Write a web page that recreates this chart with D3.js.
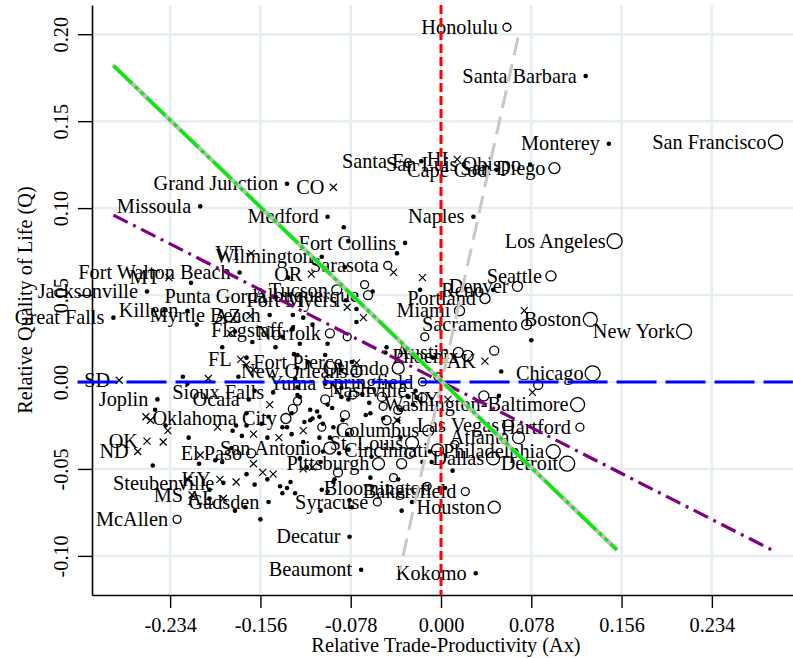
<!DOCTYPE html>
<html>
<head>
<meta charset="utf-8">
<script src="https://cdn.jsdelivr.net/npm/d3@7"></script>
<style>
  body { margin: 0; background: #fff; }
  svg { display: block; }
  text { font-family: "Liberation Serif", "Times New Roman", serif; }
</style>
</head>
<body>
<div id="chart"></div>
<script>
// ---- data (Ax = relative trade-productivity, Q = relative quality of life) ----
const xTicks = [-0.234, -0.156, -0.078, 0, 0.078, 0.156, 0.234];
const yTicks = [-0.10, -0.05, 0, 0.05, 0.10, 0.15, 0.20];

// labelled areas: mark "d" = small metro, "x" = non-metro state area, "c" = large metro (w = relative size)
const labelNames = ["Honolulu","Santa Barbara","Monterey","San Francisco","San Diego","San Luis Obispo","Santa Fe","HI","Cape Cod","Naples",
  "Los Angeles","Seattle","Denver","Reno","Portland","Miami","Sacramento","Boston","New York","Chicago",
  "Washington-Baltimore","Hartford","Philadelphia","Detroit","Houston","Kokomo","Dallas","Las Vegas","Atlanta","Bakersfield",
  "Bloomington","Syracuse","Pittsburgh","San Antonio","El Paso","Oklahoma City","Columbus","St. Louis","Cincinnati","Springfield",
  "Nashville","Orlando","Yuma","New Orleans","Fort Pierce","Sioux Falls","Ocala","Joplin","OK","ND",
  "SD","Steubenville","KY","MS","AL","Gadsden","McAllen","Decatur","Beaumont","Grand Junction",
  "CO","Missoula","Medford","Fort Collins","VT","Wilmington","Sarasota","OR","Fort Walton Beach","MT",
  "Jacksonville","Punta Gorda","Tucson","Albuquerque","Fort Myers","Great Falls","Killeen","Myrtle Beach","AZ","Flagstaff",
  "Norfolk","FL","Austin","Phoenix","AK","NY"];
const labelAx = [0.057,0.125,0.145,0.289,0.098,0.077,-0.017,0.014,0.048,0.028,
  0.150,0.095,0.066,0.045,0.038,0.016,0.074,0.129,0.210,0.131,
  0.118,0.120,0.097,0.109,0.046,0.030,0.045,0.058,0.067,0.021,
  -0.001,-0.055,-0.054,-0.096,-0.164,-0.134,-0.011,-0.025,-0.003,-0.016,
  -0.022,-0.037,-0.100,-0.073,-0.077,-0.145,-0.166,-0.245,-0.254,-0.262,
  -0.278,-0.188,-0.191,-0.215,-0.188,-0.149,-0.228,-0.079,-0.069,-0.133,
  -0.093,-0.208,-0.098,-0.031,-0.164,-0.103,-0.046,-0.112,-0.174,-0.235,
  -0.254,-0.143,-0.090,-0.063,-0.082,-0.283,-0.219,-0.148,-0.165,-0.129,
  -0.096,-0.173,0.015,0.023,0.038,0.006];
const labelQ = [0.204,0.176,0.137,0.138,0.123,0.125,0.127,0.128,0.122,0.095,
  0.081,0.061,0.055,0.053,0.048,0.041,0.033,0.036,0.029,0.005,
  -0.013,-0.026,-0.040,-0.047,-0.072,-0.110,-0.044,-0.025,-0.032,-0.063,
  -0.061,-0.069,-0.047,-0.038,-0.041,-0.021,-0.028,-0.035,-0.039,0.000,
  -0.005,0.008,-0.001,0.006,0.0115,-0.006,-0.010,-0.010,-0.034,-0.040,
  0.001,-0.058,-0.056,-0.065,-0.067,-0.069,-0.079,-0.089,-0.108,0.114,
  0.112,0.101,0.095,0.080,0.074,0.072,0.067,0.062,0.063,0.060,
  0.052,0.049,0.053,0.050,0.047,0.037,0.041,0.0385,0.038,0.030,
  0.028,0.013,0.017,0.015,0.012,-0.010];
const labelMark = ["c","d","d","c","c","d","d","x","d","d",
  "c","c","c","d","c","c","c","c","c","c",
  "c","c","c","c","c","d","c","c","c","c",
  "d","c","c","c","c","c","c","c","c","c",
  "d","c","d","c","d","d","d","d","x","x",
  "x","d","x","x","x","d","c","d","d","d",
  "x","d","d","d","x","d","c","x","d","x",
  "d","d","c","c","d","d","d","d","x","d",
  "c","x","c","c","x","x"];
const labelW = [0.22,0,0,0.68,0.42,0,0,0,0,0,
  0.78,0.35,0.35,0,0.35,0.35,0.35,0.68,0.78,0.78,
  0.68,0.22,0.68,0.78,0.5,0,0.58,0.42,0.5,0.22,
  0,0.22,0.5,0.5,0.28,0.35,0.42,0.58,0.5,0.22,
  0,0.5,0,0.42,0,0,0,0,0,0,
  0,0,0,0,0,0,0.22,0,0,0,
  0,0,0,0,0,0,0.22,0,0,0,
  0,0,0.35,0.28,0,0,0,0,0,0,
  0.28,0,0.35,0.42,0,0];

// unlabelled small metros
const dotAx = [-0.084,-0.080,-0.038,-0.132,-0.083,-0.216,-0.128,-0.119,-0.111,-0.073,-0.073,-0.211,-0.189,-0.163,-0.143,-0.137,-0.178,
  -0.223,-0.219,-0.175,-0.168,-0.161,-0.127,-0.115,-0.122,-0.133,-0.247,-0.238,-0.218,-0.177,-0.168,-0.172,-0.180,-0.150,-0.129,
  -0.118,-0.113,-0.249,-0.209,-0.195,-0.181,-0.150,-0.168,-0.161,-0.139,-0.137,-0.126,-0.130,-0.122,-0.116,-0.104,-0.093,-0.103,
  -0.098,-0.104,-0.169,-0.178,-0.156,-0.200,-0.102,-0.088,-0.102,-0.094,-0.107,-0.111,-0.086,-0.080,-0.085,-0.081,-0.061,-0.060,
  -0.065,-0.062,-0.037,-0.124,-0.098,-0.068,-0.061,-0.050,-0.035,-0.028,-0.024,-0.119,-0.093,-0.096,-0.105,-0.080,-0.037,-0.092,
  -0.079,-0.034,-0.077,-0.016,-0.0095,-0.128,-0.098,-0.047,-0.048,-0.124,-0.018,-0.100,-0.087,-0.086,-0.124,-0.126,-0.124,-0.122,
  -0.086,-0.129,-0.113,-0.105,-0.137,-0.033,-0.007,0.050,0.010,0.0035,-0.008,0.078,0.052,-0.029,-0.021,-0.035,-0.025,-0.059,
  -0.149,-0.168,-0.155,-0.189,-0.133,-0.200];
const dotQ = [0.089,0.081,0.074,0.060,0.066,0.057,0.0385,0.037,0.033,0.042,0.0345,0.033,0.020,0.023,0.020,0.026,0.029,
  0.003,-0.001,0.003,0.014,-0.005,0.016,0.0115,0.022,-0.026,-0.016,-0.025,-0.032,-0.025,-0.025,-0.031,-0.028,-0.032,-0.030,
  -0.023,-0.022,-0.048,-0.047,-0.045,-0.038,-0.056,-0.053,-0.059,-0.060,-0.064,-0.064,-0.0575,-0.044,-0.049,-0.046,-0.0575,-0.062,
  -0.063,-0.074,-0.072,-0.074,-0.079,-0.062,-0.040,-0.041,-0.024,-0.015,-0.017,-0.021,-0.0086,-0.010,-0.022,-0.030,-0.055,-0.043,
  -0.019,-0.012,-0.022,-0.0075,-0.013,-0.007,-0.018,-0.021,-0.016,-0.0086,-0.013,-0.0345,-0.026,-0.032,-0.032,-0.039,-0.056,-0.056,
  -0.068,-0.074,-0.072,-0.046,-0.040,0.031,0.022,0.020,0.017,0.0155,0.053,0.0155,0.010,0.007,0.008,0.002,-0.003,-0.0086,
  -0.0035,-0.018,-0.016,-0.020,-0.026,-0.0006,0.014,-0.008,-0.051,-0.061,-0.046,0.024,0.006,-0.008,-0.009,-0.032,-0.069,0.052,
  -0.020,-0.018,-0.024,-0.046,-0.061,-0.067];

// unlabelled non-metro state areas
const crossAx = [-0.041,-0.016,-0.081,-0.067,-0.182,-0.201,-0.168,-0.162,-0.148,-0.255,-0.251,-0.236,-0.240,-0.193,-0.162,-0.140,
  -0.119,-0.208,-0.162,-0.154,-0.145,-0.119,-0.111,-0.219,-0.177,-0.073,-0.038,0.072,0.079];
const crossQ = [0.063,0.060,0.043,0.037,0.028,0.002,0.010,0.007,-0.013,-0.020,-0.022,-0.028,-0.0345,-0.026,-0.030,-0.032,
  -0.028,-0.042,-0.047,-0.052,-0.053,-0.050,-0.049,-0.056,-0.0575,0.011,-0.022,0.041,-0.006];

// unlabelled large metros
const circleAx = [-0.066,-0.081,-0.014,-0.0026,0.046,0.084,0.037,-0.027,-0.034,-0.041,-0.012,-0.124,-0.128,-0.100,-0.076,-0.083,
  -0.079,-0.103,-0.089,-0.051,-0.050,-0.047,-0.037,-0.016,0.012];
const circleQ = [0.056,0.026,0.026,0.003,0.018,-0.0017,-0.008,-0.041,-0.047,-0.055,-0.060,-0.011,-0.0155,-0.010,-0.0075,-0.019,
  -0.029,-0.026,-0.052,-0.0086,-0.014,-0.022,-0.016,-0.009,-0.036];
const circleW = [0.22,0.22,0.22,0.22,0.28,0.28,0.35,0.35,0.35,0.22,0.22,0.22,0.28,0.28,0.22,0.28,
  0.22,0.22,0.28,0.28,0.22,0.28,0.28,0.28,0.22];

// fitted / reference lines (end points in data units)
const grayDashed = [[0.0665, 0.198], [-0.0354, -0.108]];
const greenFit = [[-0.283, 0.182], [0.152, -0.0966]];
const purpleFit = [[-0.283, 0.096], [0.290, -0.098]];
const zeroQ = [[-0.314, 0], [0.304, 0]];
const zeroAx = [[0, 0.2168], [0, -0.1225]];

// ---- layout ----
const width = 793, height = 658;
const margin = ({ top: 5, right: 0, bottom: 63, left: 92 });

const x = d3.scaleLinear().domain([-0.3015, 0.3041]).range([margin.left, width - margin.right]);
const y = d3.scaleLinear().domain([-0.1225, 0.2168]).range([height - margin.bottom, margin.top]);
const r = d3.scaleSqrt().domain([0, 1]).range([0, 8.5]);

const svg = d3.select("#chart").append("svg")
  .attr("width", width)
  .attr("height", height)
  .attr("viewBox", [0, 0, width, height]);

// grid
const grid = svg.append("g").attr("stroke", "#e6eef1").attr("stroke-width", 2.5);
grid.selectAll("line.gx").data(xTicks).join("line")
  .attr("x1", d => x(d)).attr("x2", d => x(d))
  .attr("y1", y.range()[1]).attr("y2", y.range()[0]);
grid.selectAll("line.gy").data(yTicks).join("line")
  .attr("y1", d => y(d)).attr("y2", d => y(d))
  .attr("x1", x.range()[0]).attr("x2", x.range()[1]);

// axes
const fs = "20.3px";
const gx = svg.append("g")
  .attr("transform", `translate(0,${y.range()[0]})`)
  .call(d3.axisBottom(x).tickValues(xTicks).tickSize(13).tickSizeOuter(0).tickFormat(d => d.toFixed(3)));
gx.selectAll("text").attr("font-size", fs).attr("font-family", "Liberation Serif").attr("fill", "#000")
  .attr("y", 37).attr("dy", 0);

const gy = svg.append("g")
  .attr("transform", `translate(${x.range()[0]},0)`)
  .call(d3.axisLeft(y).tickValues(yTicks).tickSize(14).tickSizeOuter(0).tickFormat(d => d.toFixed(2)));
gy.selectAll("text").attr("font-size", fs).attr("font-family", "Liberation Serif").attr("fill", "#000")
  .attr("transform", "rotate(-90)").attr("text-anchor", "middle")
  .attr("x", 0).attr("y", -24).attr("dy", 0);

[gx, gy].forEach(g => {
  g.select(".domain").attr("stroke", "#000").attr("stroke-width", 1.6);
  g.selectAll(".tick line").attr("stroke", "#000").attr("stroke-width", 1.4);
});

svg.append("text")
  .attr("x", 446).attr("y", 652)
  .attr("text-anchor", "middle").attr("font-size", fs)
  .text("Relative Trade-Productivity (Ax)");
svg.append("text")
  .attr("transform", `translate(32,${(y.range()[0] + y.range()[1]) / 2}) rotate(-90)`)
  .attr("text-anchor", "middle").attr("font-size", fs)
  .text("Relative Quality of Life (Q)");

// points
const labelled = labelNames.map((name, i) => ({ name, ax: labelAx[i], q: labelQ[i], mark: labelMark[i], w: labelW[i] }));
const points = [
  ...labelled,
  ...dotAx.map((ax, i) => ({ ax, q: dotQ[i], mark: "d", w: 0 })),
  ...crossAx.map((ax, i) => ({ ax, q: crossQ[i], mark: "x", w: 0 })),
  ...circleAx.map((ax, i) => ({ ax, q: circleQ[i], mark: "c", w: circleW[i] }))
];

const pts = svg.append("g");
pts.selectAll("circle.dot").data(points.filter(d => d.mark === "d")).join("circle")
  .attr("cx", d => x(d.ax)).attr("cy", d => y(d.q)).attr("r", 2.3).attr("fill", "#000");
pts.selectAll("circle.big").data(points.filter(d => d.mark === "c")).join("circle")
  .attr("cx", d => x(d.ax)).attr("cy", d => y(d.q)).attr("r", d => r(d.w))
  .attr("fill", "none").attr("stroke", "#000").attr("stroke-width", 1.3);
pts.selectAll("path.cross").data(points.filter(d => d.mark === "x")).join("path")
  .attr("transform", d => `translate(${x(d.ax)},${y(d.q)})`)
  .attr("d", "M-3.5,-3.5L3.5,3.5M-3.5,3.5L3.5,-3.5")
  .attr("stroke", "#000").attr("stroke-width", 1.2);

// labels, placed to the left of each point
svg.append("g")
  .attr("font-size", fs)
  .attr("text-anchor", "end")
  .selectAll("text").data(labelled).join("text")
  .attr("x", d => x(d.ax) - 9)
  .attr("y", d => y(d.q))
  .attr("dy", "0.33em")
  .text(d => d.name);

// lines
const line = d3.line().x(d => x(d[0])).y(d => y(d[1]));
const lines = svg.append("g").attr("fill", "none");
lines.append("path").attr("d", line(grayDashed))
  .attr("stroke", "#c8c8c8").attr("stroke-width", 3).attr("stroke-dasharray", "18,9");
lines.append("path").attr("d", line(zeroAx))
  .attr("stroke", "#ff0000").attr("stroke-width", 3).attr("stroke-dasharray", "9,4");
lines.append("path").attr("d", line(zeroQ))
  .attr("stroke", "#0000ff").attr("stroke-width", 3).attr("stroke-dasharray", "40,9");
lines.append("path").attr("d", line(purpleFit))
  .attr("stroke", "#800080").attr("stroke-width", 3.2).attr("stroke-dasharray", "16,6,3,6");
lines.append("path").attr("d", line(greenFit))
  .attr("stroke", "#bebebe").attr("stroke-width", 4.5);
lines.append("path").attr("d", line(greenFit))
  .attr("stroke", "#00ee00").attr("stroke-width", 3.2).attr("stroke-dasharray", "26,4,4,4,4,4");
</script>
</body>
</html>
